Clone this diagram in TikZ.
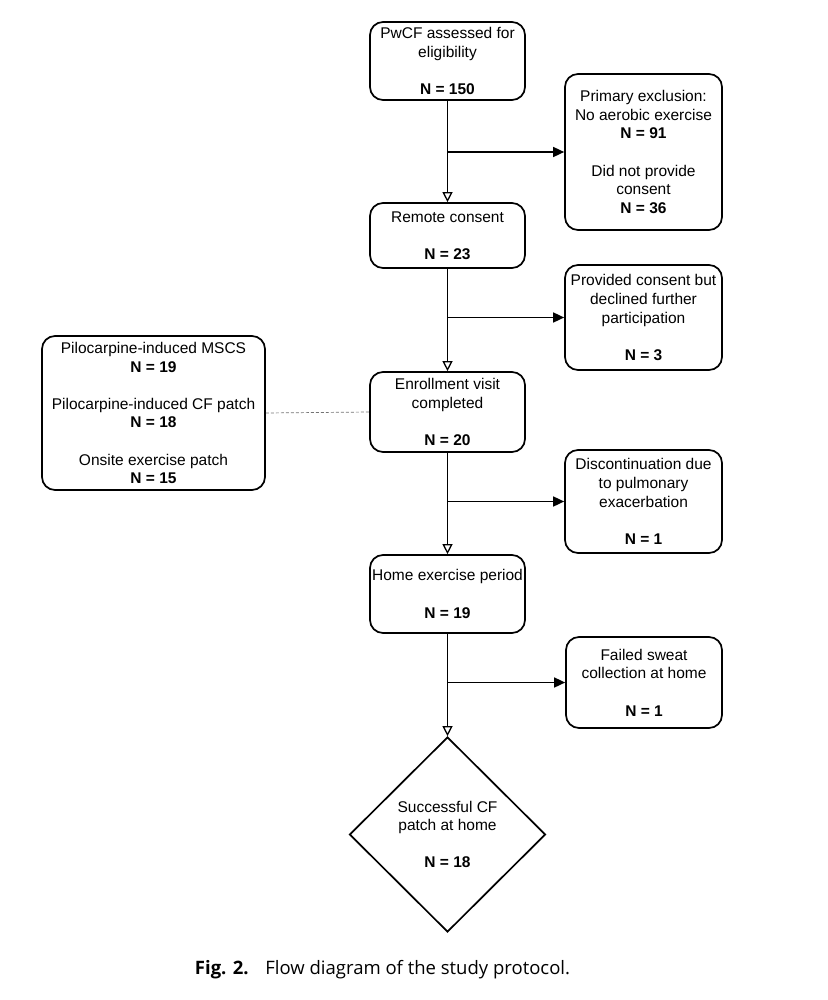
\documentclass[tikz,border=0pt]{standalone}
\usepackage{fontspec}
\setmainfont{Liberation Sans}
\newfontfamily\capfont{Open Sans}
\usetikzlibrary{arrows.meta,shapes.geometric}
\begin{document}
\begin{tikzpicture}[x=1pt,y=-1pt,
  box/.style={draw, rounded corners=13pt, line width=1.7pt, align=center,
    font=\fontsize{15.5}{18.6}\selectfont, inner sep=0pt},
  mainarrow/.style={line width=1.6pt, -{Triangle[open,width=10pt,length=10pt,line width=1.3pt]}},
  brancharrow/.style={line width=1.6pt, -{Triangle[width=10pt,length=11pt]}},
  dashline/.style={draw=black!55, line width=0.7pt, dash pattern=on 3pt off 2pt}]
\useasboundingbox (0,0) rectangle (827,1000);

\node[box, minimum width=155pt, minimum height=78pt] (b1) at (447.5,61)
  {PwCF assessed for\\eligibility\\[18.6pt]\textbf{N = 150}};
\node[box, minimum width=157pt, minimum height=156pt] (e1) at (643.5,152)
  {Primary exclusion:\\No aerobic exercise\\\textbf{N = 91}\\[18.6pt]Did not provide\\consent\\\textbf{N = 36}};
\node[box, minimum width=155pt, minimum height=65pt] (b2) at (447.5,235.5)
  {Remote consent\\[18.6pt]\textbf{N = 23}};
\node[box, minimum width=157pt, minimum height=105pt] (e2) at (643.5,317.5)
  {Provided consent but\\declined further\\participation\\[18.6pt]\textbf{N = 3}};
\node[box, minimum width=223pt, minimum height=154pt] (L) at (153.5,413)
  {Pilocarpine-induced MSCS\\\textbf{N = 19}\\[18.6pt]Pilocarpine-induced CF patch\\\textbf{N = 18}\\[18.6pt]Onsite exercise patch\\\textbf{N = 15}};
\node[box, minimum width=155pt, minimum height=80pt] (b3) at (447.5,412)
  {Enrollment visit\\completed\\[18.6pt]\textbf{N = 20}};
\node[box, minimum width=157pt, minimum height=103pt] (e3) at (643.5,501.5)
  {Discontinuation due\\to pulmonary\\exacerbation\\[18.6pt]\textbf{N = 1}};
\node[box, minimum width=155pt, minimum height=78pt] (b4) at (447.5,594)
  {Home exercise period\\[18.6pt]\textbf{N = 19}};
\node[box, minimum width=156pt, minimum height=91pt] (e4) at (644,682.5)
  {Failed sweat\\collection at home\\[18.6pt]\textbf{N = 1}};
\node[diamond, draw, line width=1.7pt, align=center, inner sep=0pt,
  minimum width=196pt, minimum height=195pt,
  font=\fontsize{15.5}{18.6}\selectfont] (d) at (447.5,834.5)
  {Successful CF\\patch at home\\[18.6pt]\textbf{N = 18}};

\draw[mainarrow] (b1.south) -- (b2.north);
\draw[mainarrow] (b2.south) -- (b3.north);
\draw[mainarrow] (b3.south) -- (b4.north);
\draw[mainarrow] (b4.south) -- (d.north);

\draw[brancharrow] (b1.south |- e1.west) -- (e1.west);
\draw[brancharrow] (b2.south |- e2.west) -- (e2.west);
\draw[brancharrow] (b3.south |- e3.west) -- (e3.west);
\draw[brancharrow] (b4.south |- e4.west) -- (e4.west);

\draw[dashline] (L.east) -- (b3.west);

\node[font=\capfont\fontsize{18.5}{22}\selectfont, inner sep=0pt] (cap) at (382.5,970)
  {\textbf{Fig. 2.}\hspace{0.9em}Flow diagram of the study protocol.};
\end{tikzpicture}
\end{document}
